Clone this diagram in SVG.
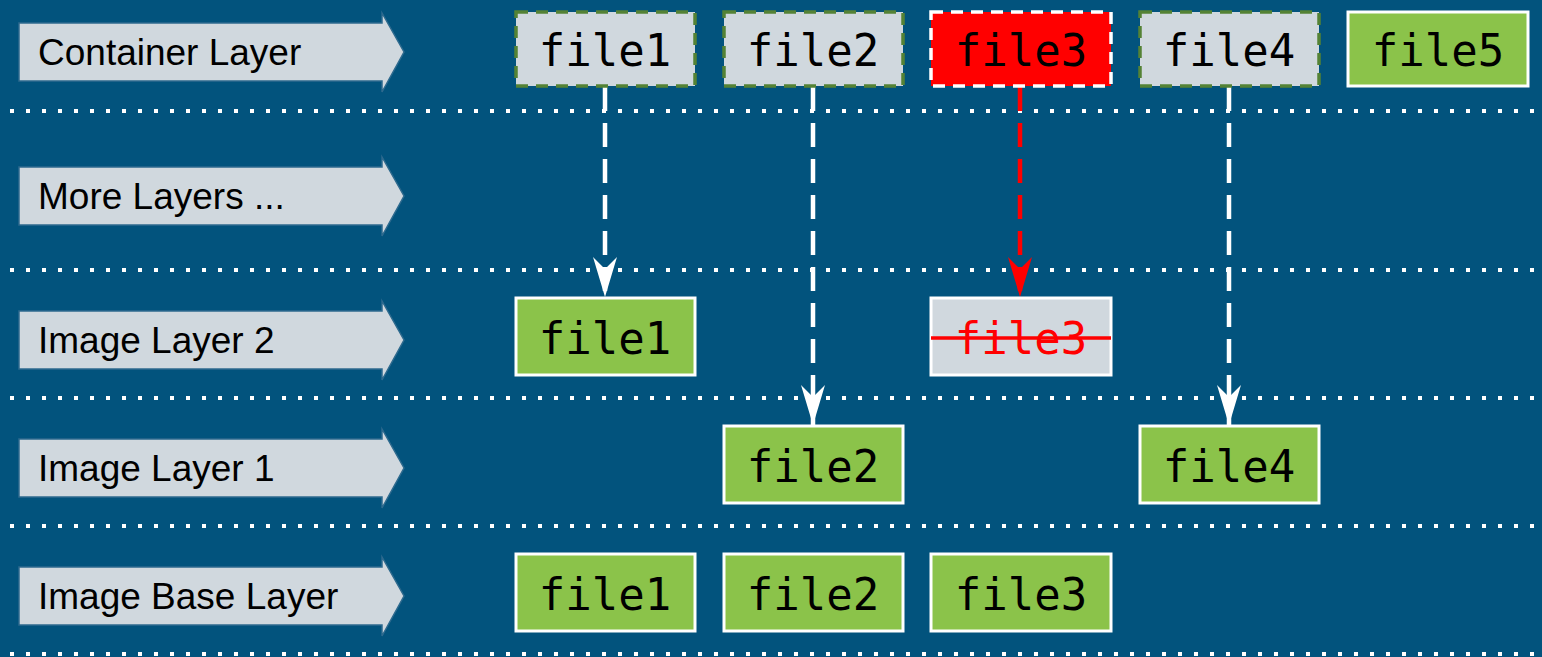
<svg xmlns="http://www.w3.org/2000/svg" width="1542" height="657" viewBox="0 0 1542 657">
  <defs>
    <style>
      .bg { fill: #02537d; }
      .sep { stroke: #ffffff; stroke-width: 4; stroke-dasharray: 4 12; fill: none; }
      .tag { fill: #d0d8de; stroke: #2e6a8e; stroke-width: 1.5; }
      .tag-text { font-family: "Liberation Sans", Arial, sans-serif; font-size: 37px; fill: #000000; }
      .file { fill: #8bc34a; stroke: #ffffff; stroke-width: 3; }
      .upper { fill: #d0d8de; stroke: #548235; stroke-width: 3.5; stroke-dasharray: 12 8; }
      .upper-del { fill: #ff0000; stroke: #ffffff; stroke-width: 3.5; stroke-dasharray: 12 8; }
      .deleted { fill: #d0d8de; stroke: #ffffff; stroke-width: 3; }
      .fname { font-family: "DejaVu Sans Mono", "Liberation Mono", monospace; font-size: 44px; fill: #000000; text-anchor: middle; }
      .fname-del { fill: #ff0000; }
      .link { stroke: #ffffff; stroke-width: 4.5; stroke-dasharray: 24 12; fill: none; }
      .link-del { stroke: #ff0000; }
    </style>
    <!-- barbed arrowheads, drawn along +x so orient="auto" points them down the line -->
    <marker id="head-white" markerWidth="42" markerHeight="26" refX="40" refY="13" orient="auto" markerUnits="userSpaceOnUse" viewBox="0 0 42 26">
      <path d="M40,13 L0,1 L12,13 L0,25 Z" fill="#ffffff"/>
    </marker>
    <marker id="head-red" markerWidth="42" markerHeight="26" refX="40" refY="13" orient="auto" markerUnits="userSpaceOnUse" viewBox="0 0 42 26">
      <path d="M40,13 L0,1 L12,13 L0,25 Z" fill="#ff0000"/>
    </marker>
  </defs>

  <rect class="bg" x="0" y="0" width="1542" height="657"/>

  <!-- row separators -->
  <g id="separators">
    <line class="sep" x1="10" y1="111" x2="1542" y2="111"/>
    <line class="sep" x1="10" y1="270" x2="1542" y2="270"/>
    <line class="sep" x1="10" y1="398" x2="1542" y2="398"/>
    <line class="sep" x1="10" y1="526" x2="1542" y2="526"/>
    <line class="sep" x1="10" y1="654" x2="1542" y2="654"/>
  </g>

  <!-- layer labels -->
  <g id="label-container">
    <path class="tag" d="M19,23 H382 V13 L404,52 L382,92 V81 H19 Z"/>
    <text class="tag-text" x="38" y="65">Container Layer</text>
  </g>
  <g id="label-more">
    <path class="tag" d="M19,167 H382 V157 L404,196 L382,236 V225 H19 Z"/>
    <text class="tag-text" x="38" y="209">More Layers ...</text>
  </g>
  <g id="label-image2">
    <path class="tag" d="M19,311 H382 V301 L404,340 L382,380 V369 H19 Z"/>
    <text class="tag-text" x="38" y="353">Image Layer 2</text>
  </g>
  <g id="label-image1">
    <path class="tag" d="M19,439 H382 V429 L404,468 L382,508 V497 H19 Z"/>
    <text class="tag-text" x="38" y="481">Image Layer 1</text>
  </g>
  <g id="label-base">
    <path class="tag" d="M19,567 H382 V557 L404,596 L382,636 V625 H19 Z"/>
    <text class="tag-text" x="38" y="609">Image Base Layer</text>
  </g>

  <!-- connectors -->
  <g id="connectors">
    <line class="link" x1="605" y1="87" x2="605" y2="297" marker-end="url(#head-white)"/>
    <line class="link" x1="813" y1="87" x2="813" y2="425" marker-end="url(#head-white)"/>
    <line class="link link-del" x1="1020" y1="87" x2="1020" y2="297" marker-end="url(#head-red)"/>
    <line class="link" x1="1229" y1="87" x2="1229" y2="425" marker-end="url(#head-white)"/>
  </g>

  <!-- container layer -->
  <g id="c-file1">
    <rect class="upper" x="516" y="12" width="179" height="74"/>
    <text class="fname" x="605" y="66">file1</text>
  </g>
  <g id="c-file2">
    <rect class="upper" x="724" y="12" width="179" height="74"/>
    <text class="fname" x="813" y="66">file2</text>
  </g>
  <g id="c-file3">
    <rect class="upper-del" x="931" y="12" width="180" height="74"/>
    <text class="fname" x="1021" y="66">file3</text>
  </g>
  <g id="c-file4">
    <rect class="upper" x="1140" y="12" width="179" height="74"/>
    <text class="fname" x="1229" y="66">file4</text>
  </g>
  <g id="c-file5">
    <rect class="file" x="1348" y="12" width="180" height="74"/>
    <text class="fname" x="1438" y="66">file5</text>
  </g>

  <!-- image layer 2 -->
  <g id="l2-file1">
    <rect class="file" x="516" y="298" width="179" height="77"/>
    <text class="fname" x="605" y="354">file1</text>
  </g>
  <g id="l2-file3">
    <rect class="deleted" x="931" y="298" width="180" height="77"/>
    <text class="fname fname-del" x="1021" y="354">file3</text>
    <line x1="931" y1="338" x2="1111" y2="338" stroke="#ff0000" stroke-width="3.5"/>
  </g>

  <!-- image layer 1 -->
  <g id="l1-file2">
    <rect class="file" x="724" y="426" width="179" height="77"/>
    <text class="fname" x="813" y="482">file2</text>
  </g>
  <g id="l1-file4">
    <rect class="file" x="1140" y="426" width="179" height="77"/>
    <text class="fname" x="1229" y="482">file4</text>
  </g>

  <!-- image base layer -->
  <g id="b-file1">
    <rect class="file" x="516" y="554" width="179" height="77"/>
    <text class="fname" x="605" y="610">file1</text>
  </g>
  <g id="b-file2">
    <rect class="file" x="724" y="554" width="179" height="77"/>
    <text class="fname" x="813" y="610">file2</text>
  </g>
  <g id="b-file3">
    <rect class="file" x="931" y="554" width="180" height="77"/>
    <text class="fname" x="1021" y="610">file3</text>
  </g>
</svg>
